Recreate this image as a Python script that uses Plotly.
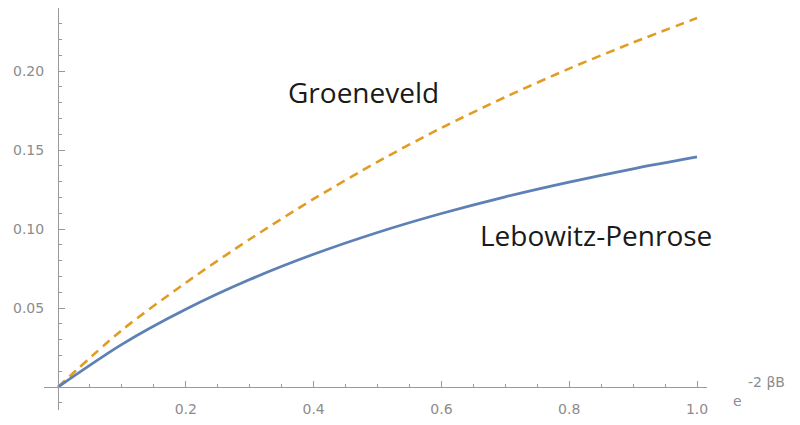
import plotly.graph_objects as go

# data
z_vals = [0.0, 0.1, 0.2, 0.3, 0.4, 0.5, 0.6, 0.7, 0.8, 0.9, 1.0]
lebowitz_penrose = [0.0, 0.027, 0.0492, 0.068, 0.084, 0.0978, 0.1098, 0.1204, 0.1297, 0.1381, 0.1456]
groeneveld = [0.0, 0.036, 0.066, 0.0935, 0.119, 0.1425, 0.164, 0.1835, 0.2015, 0.218, 0.2335]
x_ticks = [0.2, 0.4, 0.6, 0.8, 1.0]
x_tick_text = ["0.2", "0.4", "0.6", "0.8", "1.0"]
y_ticks = [0.05, 0.10, 0.15, 0.20]
y_tick_text = ["0.05", "0.10", "0.15", "0.20"]

OFF = 8                      # page body margin in the browser
W, H = 800 - OFF, 425 - OFF

def px(v):
    return v - OFF

# pixel geometry (reference window coordinates)
x0_px, x1_px = 58, 697        # x=0, x=1
y0_px, yk_px = 387, 308       # y=0, y=0.05
xd_l, xd_r = 44, 707          # x axis line extent
yd_t, yd_b = 8, 410           # y axis line extent
sx = (x1_px - x0_px) / 1.0
sy = (y0_px - yk_px) / 0.05

x_range = [(xd_l - x0_px) / sx, (xd_r - x0_px) / sx]
y_range = [-(yd_b - y0_px) / sy, (y0_px - yd_t) / sy]

axis_col = "#999999"
tick_font = dict(family="DejaVu Sans", size=14, color="#8c8c8c")

fig = go.Figure()
fig.add_trace(go.Scatter(x=z_vals, y=groeneveld, mode="lines",
                         line=dict(color="#E19C24", width=2.6, dash="9px,6px", shape="spline", smoothing=0.8),
                         hoverinfo="skip"))
fig.add_trace(go.Scatter(x=z_vals, y=lebowitz_penrose, mode="lines",
                         line=dict(color="#5E81B5", width=2.8, shape="spline", smoothing=0.8),
                         hoverinfo="skip"))

fig.update_layout(
    width=W, height=H,
    margin=dict(l=0, r=0, t=0, b=0),
    paper_bgcolor="white", plot_bgcolor="white",
    showlegend=False,
    xaxis=dict(domain=[px(xd_l) / W, px(xd_r) / W], range=x_range, anchor="free",
               position=1 - px(y0_px) / H, side="bottom",
               showgrid=False, zeroline=False, showline=True, linecolor=axis_col, linewidth=1,
               ticks="inside", ticklen=6, tickcolor=axis_col, tickwidth=1,
               tickvals=x_ticks, ticktext=x_tick_text, tickfont=tick_font,
               ticklabelstandoff=9,
               minor=dict(dtick=0.05, tick0=0, ticks="inside", ticklen=3, tickcolor=axis_col, showgrid=False),
               automargin=False),
    yaxis=dict(domain=[1 - px(yd_b) / H, 1.0], range=y_range, anchor="free",
               position=px(x0_px) / W, side="left",
               showgrid=False, zeroline=False, showline=True, linecolor=axis_col, linewidth=1,
               ticks="inside", ticklen=6, tickcolor=axis_col, tickwidth=1,
               tickvals=y_ticks, ticktext=y_tick_text, tickfont=tick_font,
               ticklabelstandoff=11,
               minor=dict(dtick=0.01, tick0=0, ticks="inside", ticklen=3, tickcolor=axis_col, showgrid=False),
               automargin=False),
)

label_font = dict(family="Open Sans", size=28, color="#1a1a1a")
fig.add_annotation(x=(363 - x0_px) / sx, y=(y0_px - 92) / sy, xref="x", yref="y",
                   text="Groeneveld", showarrow=False, font=label_font,
                   xanchor="center", yanchor="middle")
fig.add_annotation(x=(596 - x0_px) / sx, y=(y0_px - 235) / sy, xref="x", yref="y",
                   text="Lebowitz-Penrose", showarrow=False, font=label_font,
                   xanchor="center", yanchor="middle")
ax_font = dict(family="DejaVu Sans", size=14, color="#8c8c8c")
fig.add_annotation(x=px(731) / W, y=1 - px(401) / H, xref="paper", yref="paper",
                   text="e", showarrow=False, font=ax_font,
                   xanchor="left", yanchor="middle")
fig.add_annotation(x=px(746) / W, y=1 - px(382) / H, xref="paper", yref="paper",
                   text="-2 βB", showarrow=False, font=ax_font,
                   xanchor="left", yanchor="middle")

fig.write_html("out.html")
